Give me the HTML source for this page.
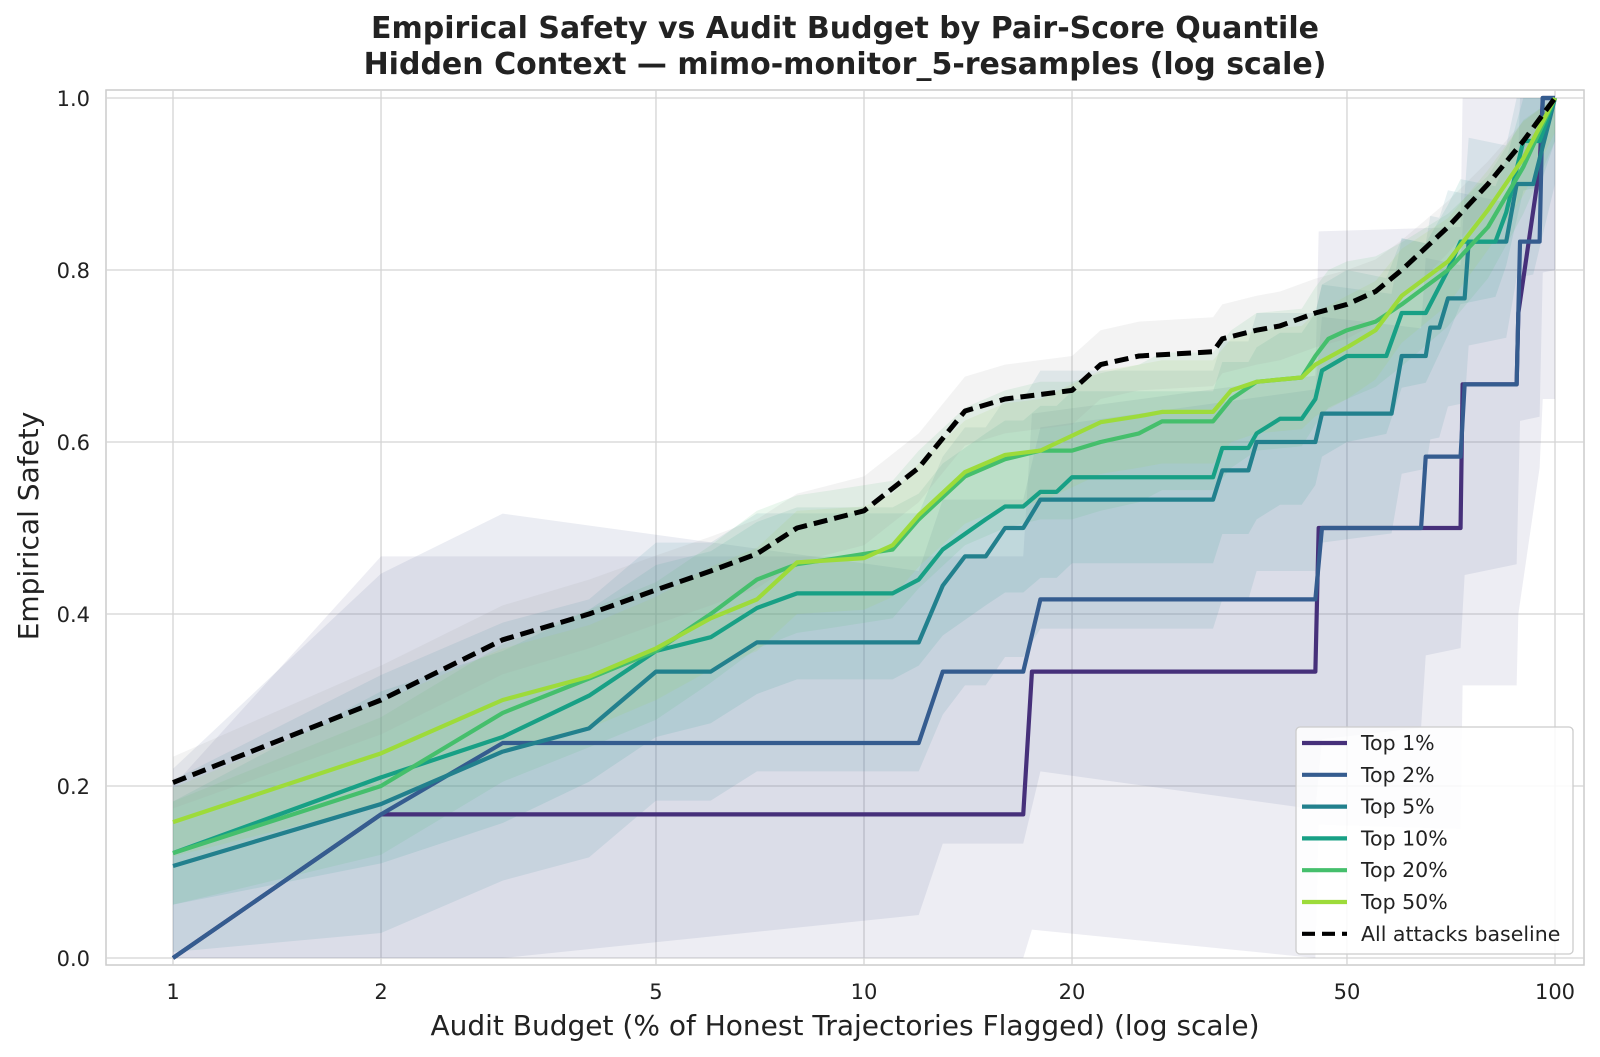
<!DOCTYPE html>
<html><head><meta charset="utf-8"><style>
body{margin:0;background:#fff;}
svg{display:block;font-family:"DejaVu Sans","Liberation Sans",sans-serif;}
</style></head><body>
<svg id="chart" width="1600" height="1057" viewBox="0 0 1600 1057">
<text x="845" y="38" text-anchor="middle" font-size="30" font-weight="bold" fill="#222">Empirical Safety vs Audit Budget by Pair-Score Quantile</text>
<text x="845" y="74" text-anchor="middle" font-size="30" font-weight="bold" fill="#222">Hidden Context — mimo-monitor_5-resamples (log scale)</text>
<rect x="106" y="90" width="1478" height="875" fill="#fff" stroke="#ccc" stroke-width="1.5"/>
<g id="grid"></g><g id="bands"></g><g id="lines"></g><g id="ticks"></g>
<text x="845" y="1035" text-anchor="middle" font-size="28" fill="#222">Audit Budget (% of Honest Trajectories Flagged) (log scale)</text>
<text transform="translate(38,526) rotate(-90)" text-anchor="middle" font-size="28" fill="#222">Empirical Safety</text>
<g id="legend"></g>
</svg>
<script>
const xTicks=[1,2,5,10,20,50,100];
const yTicks=[0,0.2,0.4,0.6,0.8,1.0];
const seriesNames=["Top 1%","Top 2%","Top 5%","Top 10%","Top 20%","Top 50%","All attacks baseline"];
const seriesColors=["#46307a","#355c8f","#22808d","#18a085","#45bf6c","#9ddb3a","#000"];
const top1X=[1,2,17,17.5,45,45.5,73,73.5,88,88.5,95,96,100];
const top1Y=[0,0.167,0.167,0.333,0.333,0.5,0.5,0.667,0.667,0.75,0.92,1,1];
const top2X=[1,2,3,12,13,17,18,45,46,64,65,73,74,88,89,95,96,100];
const top2Y=[0,0.167,0.25,0.25,0.333,0.333,0.417,0.417,0.5,0.5,0.583,0.583,0.667,0.667,0.833,0.833,1,1];
const top5X=[1,2,3,4,5,6,7,12,13,14,15,16,17,18,32,33,36,37,45,46,58,60,65,66,68,70,74,75,85,88,93,100];
const top5Y=[0.107,0.179,0.24,0.267,0.333,0.333,0.367,0.367,0.433,0.467,0.467,0.5,0.5,0.533,0.533,0.567,0.567,0.6,0.6,0.633,0.633,0.7,0.7,0.733,0.733,0.767,0.767,0.833,0.833,0.9,0.9,1];
const top10X=[1,2,3,4,5,6,7,8,11,12,13,15,16,17,18,19,20,32,33,36,37,40,43,45,46,50,57,60,65,70,73,82,85,90,95,100];
const top10Y=[0.122,0.21,0.257,0.305,0.357,0.373,0.407,0.424,0.424,0.44,0.475,0.51,0.525,0.525,0.542,0.542,0.559,0.559,0.593,0.593,0.61,0.627,0.627,0.65,0.683,0.7,0.7,0.75,0.75,0.8,0.833,0.833,0.867,0.95,0.95,1];
const top20X=[1,2,3,4,5,6,7,8,9,11,12,14,16,18,20,22,25,27,32,34,37,43,45,47,50,55,60,70,80,90,100];
const top20Y=[0.122,0.2,0.285,0.325,0.357,0.4,0.44,0.458,0.464,0.475,0.51,0.56,0.58,0.59,0.59,0.6,0.61,0.624,0.624,0.65,0.67,0.675,0.7,0.72,0.73,0.74,0.76,0.8,0.85,0.92,1];
const top50X=[1,2,3,4,5,6,7,8,10,11,12,14,16,18,22,25,27,32,34,37,43,45,50,55,60,70,80,90,100];
const top50Y=[0.158,0.238,0.3,0.327,0.36,0.395,0.417,0.46,0.465,0.48,0.515,0.565,0.585,0.59,0.623,0.63,0.635,0.635,0.66,0.67,0.675,0.69,0.71,0.73,0.77,0.81,0.87,0.93,1];
const baseX=[1,2,3,4,5,6,7,8,10,12,14,16,20,22,25,32,33,37,40,45,50,55,60,70,80,90,100];
const baseY=[0.204,0.3,0.37,0.4,0.428,0.45,0.47,0.5,0.52,0.57,0.636,0.65,0.66,0.69,0.7,0.705,0.72,0.73,0.735,0.75,0.76,0.775,0.8,0.85,0.9,0.95,1];
const ciAnchors=[1,2,5,10,20,50,100];
const ciTop1=[0.2,0.3,0.3,0.3,0.3,0.35,0.35];
const ciTop2=[0.22,0.28,0.25,0.2,0.2,0.25,0.2];
const ciTop5=[0.1,0.15,0.15,0.15,0.15,0.15,0.1];
const ciTop10=[0.06,0.1,0.1,0.1,0.1,0.1,0.05];
const ciTop20=[0.06,0.08,0.08,0.08,0.08,0.08,0.05];
const ciTop50=[0.04,0.06,0.06,0.06,0.06,0.06,0.04];
const ciBase=[0.03,0.04,0.04,0.04,0.04,0.04,0.02];

const NS="http://www.w3.org/2000/svg";
const X=v=>173+691*Math.log10(v);
const Y=v=>958-860*v;
function mk(t,a,p){const e=document.createElementNS(NS,t);for(const k in a)e.setAttribute(k,a[k]);p.appendChild(e);return e;}
const grid=document.getElementById('grid'),ticks=document.getElementById('ticks');
xTicks.forEach(v=>{
 const l=mk('line',{x1:X(v),x2:X(v),y1:90,y2:965,stroke:'#d4d4d4','stroke-width':1.3},grid);
 
 
 const t=mk('text',{x:X(v),y:999,'text-anchor':'middle','font-size':21,fill:'#222'},ticks);t.textContent=v;
 
 
});
yTicks.forEach(v=>{
 const l=mk('line',{x1:106,x2:1584,y1:Y(v),y2:Y(v),stroke:'#d4d4d4','stroke-width':1.3},grid);
 
 
 const t=mk('text',{x:90,y:Y(v)+8,'text-anchor':'end','font-size':21,fill:'#222'},ticks);t.textContent=v.toFixed(1);
 
 
});
function ciAt(ci,x){for(let i=0;i<ciAnchors.length-1;i++){if(x<=ciAnchors[i+1]){const a=Math.log10(ciAnchors[i]),b=Math.log10(ciAnchors[i+1]);const f=(Math.log10(x)-a)/(b-a);return ci[i]+(ci[i+1]-ci[i])*f;}}return ci[ci.length-1];}
const allX=[top1X,top2X,top5X,top10X,top20X,top50X,baseX];
const allY=[top1Y,top2Y,top5Y,top10Y,top20Y,top50Y,baseY];
const allCI=[ciTop1,ciTop2,ciTop5,ciTop10,ciTop20,ciTop50,ciBase];
const bands=document.getElementById('bands'),lines=document.getElementById('lines');
const bandColors=["#6a6a9a","#5a6f9a","#3a8a9a","#2aa08a","#50c070","#a0d850","#999"];
for(let s=0;s<7;s++){
 const xs=allX[s],ys=allY[s],ci=allCI[s];
 let up=[],lo=[];
 xs.forEach((x,i)=>{const h=ciAt(ci,x);up.push(X(x)+','+Y(Math.min(1,ys[i]+h)));lo.push(X(x)+','+Y(Math.max(0,ys[i]-h)));});
 const b=mk('polygon',{points:up.concat(lo.reverse()).join(' '),fill:bandColors[s],'fill-opacity':0.12},bands);
 
 
}
for(let s=0;s<7;s++){
 const pts=allX[s].map((x,i)=>X(x)+','+Y(allY[s][i])).join(' ');
 const a={points:pts,fill:'none',stroke:seriesColors[s],'stroke-width':s==6?5:4.2,'stroke-linejoin':'round'};
 if(s==6)a['stroke-dasharray']='14,7';
 const l=mk('polyline',a,lines);
 
 
}
const lg=document.getElementById('legend');
mk('rect',{x:1296,y:727,width:277,height:227,rx:4,fill:'#fff','fill-opacity':0.85,stroke:'#ccc','stroke-width':1.3},lg);
seriesNames.forEach((n,i)=>{
 const y=743+i*31.8;
 const a={x1:1302,x2:1347,y1:y,y2:y,stroke:seriesColors[i],'stroke-width':4.2};
 if(i==6)a['stroke-dasharray']='13,7';
 mk('line',a,lg);
 const t=mk('text',{x:1361,y:y+7,'font-size':20.5,fill:'#222'},lg);t.textContent=n;
 
 
});
</script>
</body></html>
